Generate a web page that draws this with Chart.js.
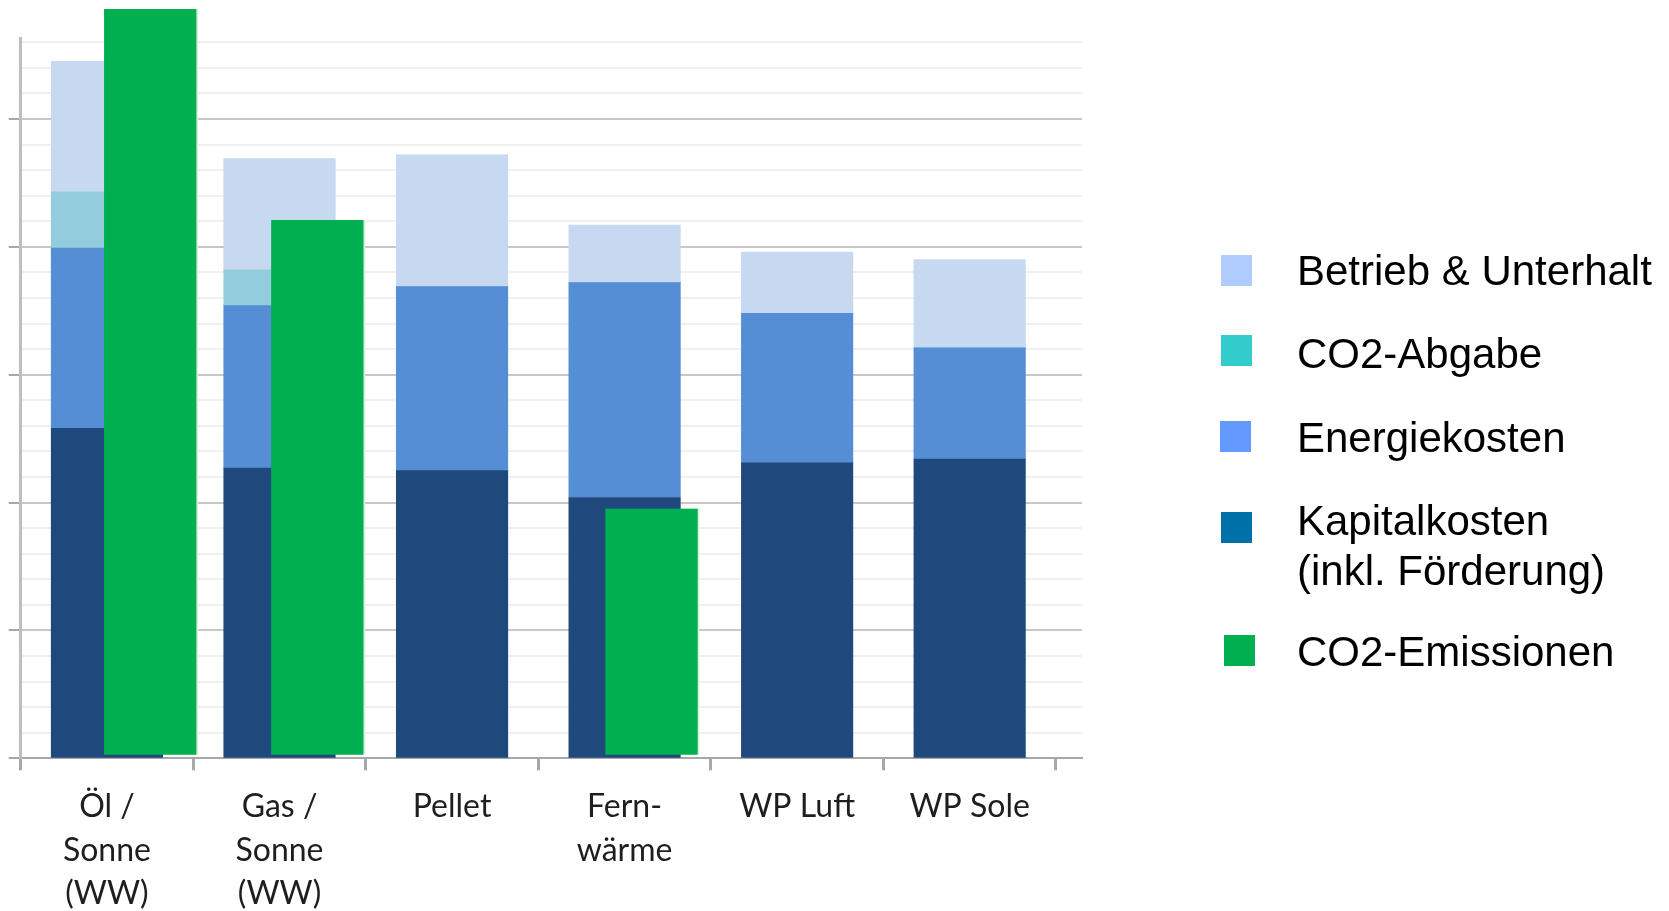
<!DOCTYPE html>
<html>
<head>
<meta charset="utf-8">
<script src="https://cdn.jsdelivr.net/npm/chart.js@4.4.1/dist/chart.umd.min.js"></script>
<style>
  html, body { margin: 0; padding: 0; background: #fff; }
  #wrap { position: relative; width: 1669px; height: 911px; overflow: hidden; }
  #chart { position: absolute; left: 0; top: 0; }
  .swatch { position: absolute; width: 31px; height: 31px; }
  .label {
    position: absolute; left: 1297px; white-space: nowrap;
    font-family: "Liberation Sans", Arial, sans-serif; font-size: 42px;
    line-height: 50px; color: #000;
  }
</style>
</head>
<body>
<div id="wrap">
  <canvas id="chart" width="1669" height="911"></canvas>
</div>
<script>
// categories (x axis)
const categories = [
  ["Öl /", "Sonne", "(WW)"],
  ["Gas /", "Sonne", "(WW)"],
  "Pellet",
  ["Fern-", "wärme"],
  "WP Luft",
  "WP Sole"
];

// cost components, stacked from bottom to top
const kapitalkosten    = [25.8, 22.7, 22.5, 20.4, 23.1, 23.4];
const energiekosten    = [14.1, 12.7, 14.4, 16.8, 11.7, 8.7];
const co2Abgabe        = [4.4, 2.8, 0, 0, 0, 0];
const betriebUnterhalt = [10.2, 8.7, 10.3, 4.5, 4.8, 6.9];

// CO2 emissions (own scale, only shown for fossil / district heat)
const co2Emissionen = [8.66, 6.21, null, 2.86, null, null];

// legend entries (drawn as a separate block like in the slide)
const legendItems = [
  { text: "Betrieb & Unterhalt", color: "#B0CCFF", box: [1221, 255], top: 245.5 },
  { text: "CO2-Abgabe", color: "#33CCCC", box: [1221, 335], top: 328.5 },
  { text: "Energiekosten", color: "#6499FF", box: [1220, 421], top: 412.5 },
  { text: "Kapitalkosten<br>(inkl. Förderung)", color: "#0070A8", box: [1221, 512], top: 495.5 },
  { text: "CO2-Emissionen", color: "#00B050", box: [1224, 635], top: 626.5 }
];

const wrap = document.getElementById("wrap");
legendItems.forEach(item => {
  const sw = document.createElement("div");
  sw.className = "swatch";
  sw.style.left = item.box[0] + "px";
  sw.style.top = item.box[1] + "px";
  sw.style.background = item.color;
  wrap.appendChild(sw);
  const lb = document.createElement("div");
  lb.className = "label";
  lb.style.top = item.top + "px";
  lb.innerHTML = item.text;
  wrap.appendChild(lb);
});

const toPoints = arr => arr
  .map((v, i) => ({ x: i, y: v }))
  .filter(p => p.y !== null);

const costBar = (label, values, color) => ({
  label,
  data: toPoints(values),
  backgroundColor: color,
  borderWidth: 0,
  grouped: false,
  barThickness: 111.5,
  xAxisID: "x",
  yAxisID: "y"
});

const tickVal = ctx => (ctx.tick ? ctx.tick.value : null);

new Chart(document.getElementById("chart").getContext("2d"), {
  type: "bar",
  data: {
    datasets: [
      {
        label: "CO2-Emissionen",
        data: toPoints(co2Emissionen),
        backgroundColor: "#00AF50",
        borderColor: "#D4F0DE",
        borderWidth: { top: 0, left: 0, right: 2, bottom: 0 },
        borderSkipped: false,
        grouped: false,
        barThickness: 94,
        xAxisID: "x2",
        yAxisID: "y2",
        clip: false,
        order: -1
      },
      costBar("Kapitalkosten (inkl. Förderung)", kapitalkosten, "#1F497D"),
      costBar("Energiekosten", energiekosten, "#558ED5"),
      costBar("CO2-Abgabe", co2Abgabe, "#93CDDD"),
      costBar("Betrieb & Unterhalt", betriebUnterhalt, "#C6D9F1")
    ]
  },
  options: {
    responsive: false,
    animation: false,
    layout: { padding: { left: 0, top: 38.3, right: 587, bottom: 0 } },
    plugins: {
      legend: { display: false },
      tooltip: { enabled: false }
    },
    scales: {
      x: {
        type: "linear",
        min: -0.5,
        max: 5.651,
        offset: false,
        stacked: true,
        afterBuildTicks: axis => {
          const t = [];
          for (let v = -0.5; v <= 5.5; v += 0.5) t.push({ value: v });
          axis.ticks = t;
        },
        afterFit: scale => { scale.height = 152.7; },
        grid: {
          offset: false,
          drawOnChartArea: false,
          tickLength: 12,
          tickWidth: 3,
          tickColor: ctx => {
            const v = tickVal(ctx);
            return v !== null && !Number.isInteger(v) ? "#A8A8A8" : "rgba(0,0,0,0)";
          }
        },
        border: { display: true, color: "#A8A8A8", width: 2 },
        ticks: {
          autoSkip: false,
          maxRotation: 0,
          padding: 15,
          color: "#1E1E1E",
          font: { family: "Lato", size: 32, lineHeight: 1.36 },
          callback: v => Number.isInteger(v) ? categories[v] : ""
        }
      },
      y: {
        min: 0,
        max: 56.31,
        stacked: true,
        afterFit: scale => { scale.width = 20.7; },
        ticks: { display: false, stepSize: 2, includeBounds: false },
        grid: {
          lineWidth: 2,
          tickLength: 12,
          tickWidth: 2,
          color: ctx => {
            const v = tickVal(ctx);
            if (v === 0) return "#A8A8A8";
            return v !== null && v % 10 === 0 ? "#C8C8C8" : "#F0F0F0";
          },
          tickColor: ctx => {
            const v = tickVal(ctx);
            return v !== null && v % 10 === 0 ? "#A8A8A8" : "rgba(0,0,0,0)";
          }
        },
        border: { display: true, color: "#BEBEBE", width: 3 }
      },
      x2: {
        type: "linear",
        display: false,
        offset: false,
        min: -0.78,
        max: 5.571
      },
      y2: {
        display: false,
        min: -0.04,
        max: 8.32
      }
    }
  }
});
</script>
</body>
</html>
